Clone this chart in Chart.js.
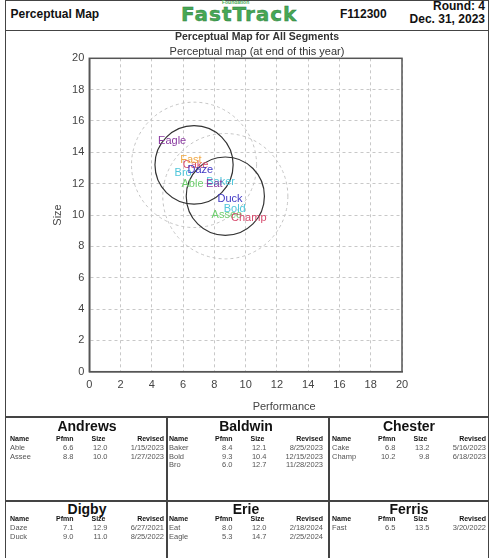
<!DOCTYPE html>
<html>
<head>
<meta charset="utf-8">
<title>Perceptual Map</title>
<script src="https://cdn.jsdelivr.net/npm/chart.js@4.4.1/dist/chart.umd.min.js"></script>
<style>
  html, body { margin: 0; padding: 0; background: #fff; }
  body { width: 496px; height: 558px; position: relative; overflow: hidden; font-family: Arial, "Liberation Sans", sans-serif; color: #111; }
  .abs { position: absolute; }
  .hline { position: absolute; height: 0; border-top: 2px solid #444; }
  .vline { position: absolute; width: 0; border-left: 2px solid #444; }
  .hdr { position: absolute; font-weight: bold; font-size: 12px; line-height: 14px; white-space: nowrap; }
  .logo { position: absolute; left: 181px; top: 4px; font-family: "DejaVu Sans", sans-serif; font-weight: bold; font-size: 20px; line-height: 20px; color: #46a855; -webkit-text-stroke: 0.4px #2a7a38; letter-spacing: 1px; white-space: nowrap; }
  .logo-small { position: absolute; left: 222px; top: 0; font-size: 5px; line-height: 5px; color: #46a855; font-weight: bold; }
  .co { position: absolute; font-weight: bold; font-size: 14px; line-height: 16px; text-align: center; }
  table.prod { position: absolute; border-collapse: collapse; table-layout: fixed; width: 154px; }
  table.prod td { padding: 0; white-space: nowrap; overflow: visible; }
  table.prod tr.h td { font-weight: bold; font-size: 7px; line-height: 8.8px; height: 8.8px; color: #111; }
  table.prod tr.d td { font-size: 7.5px; line-height: 8.8px; height: 8.8px; color: #555; }
  table.prod td.r { text-align: right; }
  #chartBox { position: absolute; left: 0; top: 26px; }
</style>
</head>
<body>
<!-- page frame -->
<div class="abs" style="left:5px;top:0;width:482px;height:560px;border:1px solid #444;border-bottom:none;"></div>
<div class="abs" style="left:5px;top:30px;width:483px;height:0;border-top:1px solid #444;"></div>

<div class="hdr" style="left:10.5px;top:7px;">Perceptual Map</div>
<div class="logo-small">Foundation</div>
<div class="logo">FastTrack</div>
<div class="hdr" style="left:340px;top:7px;">F112300</div>
<div class="hdr" style="right:11px;top:0;text-align:right;line-height:12.6px;">Round: 4<br>Dec. 31, 2023</div>

<canvas id="chartBox" width="496" height="391"></canvas>

<div id="tables"></div>

<script>
// segments (ideal spots) on the map
const segmentPfmn = [6.7, 8.7];
const segmentSize = [13.2, 11.2];
const innerRadius = 2.5;
const outerRadius = 4;

// companies and their products
const companies = ['Andrews', 'Baldwin', 'Chester', 'Digby', 'Erie', 'Ferris'];
const companyColors = ['#6fcf6f', '#4fc6da', '#d64a6c', '#4038c4', '#8a3aa0', '#f0a844'];
const productNames = [['Able', 'Assee'], ['Baker', 'Bold', 'Bro'], ['Cake', 'Champ'], ['Daze', 'Duck'], ['Eat', 'Eagle'], ['Fast']];
const productPfmn = [[6.6, 8.8], [8.4, 9.3, 6.0], [6.8, 10.2], [7.1, 9.0], [8.0, 5.3], [6.5]];
const productSize = [[12.0, 10.0], [12.1, 10.4, 12.7], [13.2, 9.8], [12.9, 11.0], [12.0, 14.7], [13.5]];
const productRevised = [
  ['1/15/2023', '1/27/2023'],
  ['8/25/2023', '12/15/2023', '11/28/2023'],
  ['5/16/2023', '6/18/2023'],
  ['6/27/2021', '8/25/2022'],
  ['2/18/2024', '2/25/2024'],
  ['3/20/2022']
];

const axisTicks = [0, 2, 4, 6, 8, 10, 12, 14, 16, 18, 20];

// ---- tables below the chart ----
const cellLeft = [8, 167, 330];
const rowTitleTop = [418, 500.5];
const rowTableTop = [435, 515];
let html = '';
html += '<div class="hline" style="left:5px;width:483px;top:416px;"></div>';
html += '<div class="hline" style="left:5px;width:483px;top:500px;"></div>';
html += '<div class="vline" style="left:166px;top:417px;height:145px;"></div>';
html += '<div class="vline" style="left:328px;top:417px;height:145px;"></div>';
companies.forEach((name, i) => {
  const col = i % 3, row = Math.floor(i / 3);
  const x = cellLeft[col] + 2;
  html += '<div class="co" style="left:' + x + 'px;width:154px;top:' + rowTitleTop[row] + 'px;">' + name + '</div>';
  html += '<table class="prod" style="left:' + x + 'px;top:' + rowTableTop[row] + 'px;">';
  html += '<colgroup><col style="width:40px"><col style="width:23.5px"><col style="width:34px"><col style="width:56.5px"></colgroup>';
  html += '<tr class="h"><td>Name</td><td class="r">Pfmn</td><td class="r" style="padding-right:2px">Size</td><td class="r">Revised</td></tr>';
  productNames[i].forEach((p, j) => {
    html += '<tr class="d"><td>' + p + '</td><td class="r">' + productPfmn[i][j].toFixed(1) +
      '</td><td class="r">' + productSize[i][j].toFixed(1) + '</td><td class="r">' + productRevised[i][j] + '</td></tr>';
  });
  html += '</table>';
});
document.getElementById('tables').innerHTML = html;

// ---- chart ----
Chart.defaults.font.family = 'Arial, "Liberation Sans", sans-serif';
Chart.defaults.color = '#444';

const mapPlugin = {
  id: 'mapPlugin',
  beforeDatasetsDraw(chart) {
    const { ctx, chartArea, scales: { x, y } } = chart;
    ctx.save();
    ctx.beginPath();
    ctx.rect(chartArea.left, chartArea.top, chartArea.right - chartArea.left, chartArea.bottom - chartArea.top);
    ctx.clip();
    // rough cut rings
    ctx.strokeStyle = '#c4c4c4';
    ctx.lineWidth = 1;
    ctx.setLineDash([3, 3]);
    segmentPfmn.forEach((px, i) => {
      const cx = x.getPixelForValue(px), cy = y.getPixelForValue(segmentSize[i]);
      const rx = x.getPixelForValue(px + outerRadius) - cx;
      const ry = cy - y.getPixelForValue(segmentSize[i] + outerRadius);
      ctx.beginPath();
      ctx.ellipse(cx, cy, rx, ry, 0, 0, Math.PI * 2);
      ctx.stroke();
    });
    // fine cut circles
    ctx.strokeStyle = '#333';
    ctx.lineWidth = 1.2;
    ctx.setLineDash([]);
    segmentPfmn.forEach((px, i) => {
      const cx = x.getPixelForValue(px), cy = y.getPixelForValue(segmentSize[i]);
      const rx = x.getPixelForValue(px + innerRadius) - cx;
      const ry = cy - y.getPixelForValue(segmentSize[i] + innerRadius);
      ctx.beginPath();
      ctx.ellipse(cx, cy, rx, ry, 0, 0, Math.PI * 2);
      ctx.stroke();
    });
    ctx.restore();
  },
  afterDatasetsDraw(chart) {
    const { ctx } = chart;
    ctx.save();
    ctx.font = '11px Arial, "Liberation Sans", sans-serif';
    ctx.textAlign = 'center';
    ctx.textBaseline = 'middle';
    chart.data.datasets.forEach((ds, i) => {
      const meta = chart.getDatasetMeta(i);
      ctx.fillStyle = ds.labelColor;
      meta.data.forEach((pt, j) => {
        ctx.fillText(ds.names[j], pt.x, pt.y);
      });
    });
    // plot frame
    const a = chart.chartArea;
    ctx.strokeStyle = '#555';
    ctx.lineWidth = 1.5;
    ctx.strokeRect(a.left, a.top, a.right - a.left, a.bottom - a.top);
    // x axis title (sits right of centre in the original)
    ctx.fillStyle = '#444';
    ctx.font = '11px Arial, "Liberation Sans", sans-serif';
    ctx.fillText('Performance', (a.left + a.right) / 2 + 38.5, a.bottom + 35.5);
    ctx.restore();
  }
};

new Chart(document.getElementById('chartBox'), {
  type: 'scatter',
  data: {
    datasets: companies.map((c, i) => ({
      label: c,
      names: productNames[i],
      labelColor: companyColors[i],
      data: productPfmn[i].map((v, j) => ({ x: v, y: productSize[i][j] })),
      pointRadius: 0,
      pointHoverRadius: 0,
      backgroundColor: companyColors[i],
      borderColor: companyColors[i]
    }))
  },
  options: {
    responsive: false,
    animation: false,
    events: [],
    layout: { padding: { left: 18, right: 0, top: 0, bottom: 0 } },
    plugins: {
      legend: { display: false },
      tooltip: { enabled: false },
      title: {
        display: true,
        text: 'Perceptual Map for All Segments',
        color: '#333',
        font: { size: 10.5, weight: 'bold' },
        padding: { top: 5, bottom: 1.5 }
      },
      subtitle: {
        display: true,
        text: 'Perceptual map (at end of this year)',
        color: '#333',
        font: { size: 11 },
        padding: { top: 0, bottom: 0 }
      }
    },
    scales: {
      x: {
        type: 'linear',
        min: 0,
        max: 20,
        afterBuildTicks(s) { s.ticks = axisTicks.map(v => ({ value: v })); },
        afterFit(s) { s.height = 45.3; },
        ticks: { padding: 7, color: '#444', font: { size: 11 } },
        grid: { color: '#c8c8c8', lineWidth: 1, drawTicks: false },
        border: { color: '#555', width: 1.5, dash: [3, 3] }
      },
      y: {
        type: 'linear',
        min: 0,
        max: 20,
        afterBuildTicks(s) { s.ticks = axisTicks.map(v => ({ value: v })); },
        afterFit(s) { s.width = 71.3; },
        ticks: { padding: 5, color: '#444', font: { size: 11 } },
        grid: { color: '#c8c8c8', lineWidth: 1, drawTicks: false },
        border: { color: '#555', width: 1.5, dash: [3, 3] },
        title: { display: true, text: 'Size', color: '#444', font: { size: 11 }, padding: { top: 33, bottom: 0 } }
      },
      yRight: {
        type: 'linear',
        position: 'right',
        display: true,
        afterFit(s) { s.width = 94; },
        ticks: { display: false },
        grid: { display: false, drawTicks: false },
        border: { display: false }
      }
    }
  },
  plugins: [mapPlugin]
});
</script>
</body>
</html>
